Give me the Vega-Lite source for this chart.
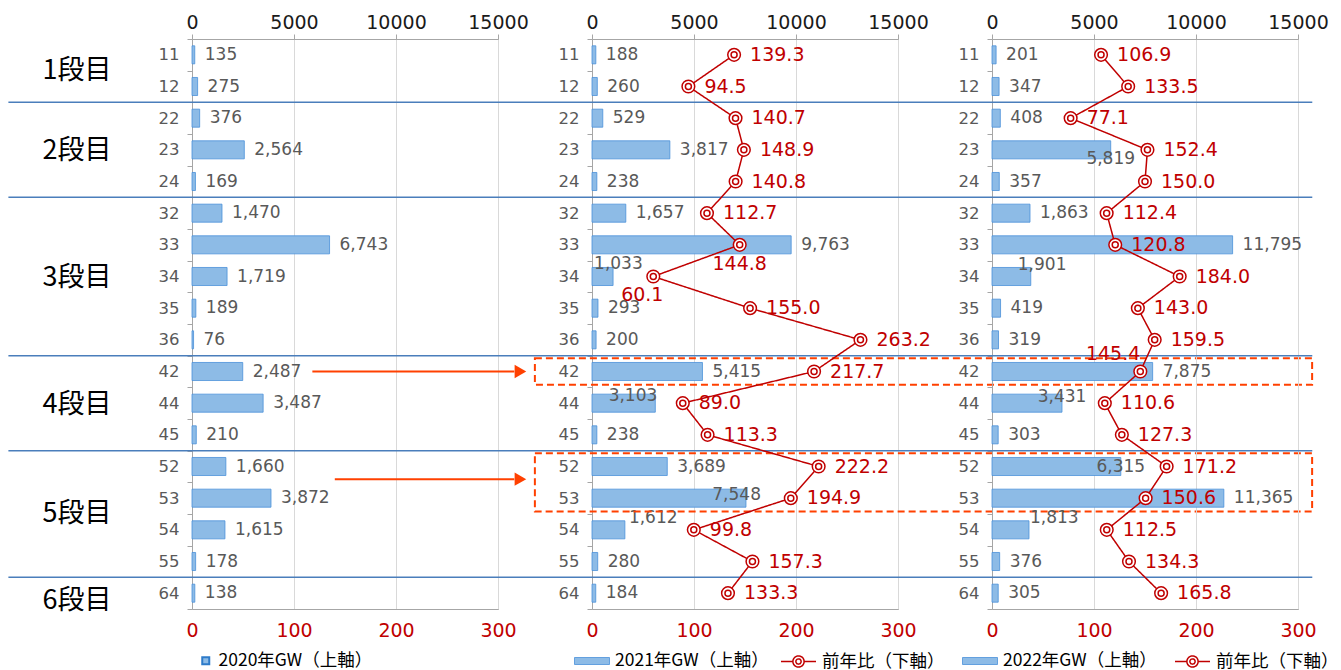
{
"$schema":"https://vega.github.io/schema/vega-lite/v6.json",
"padding":{"left":7,"top":12,"right":5,"bottom":0},
"background":"white",
"datasets":{"d":[
{"code":"11","g2020":135,"g2021":188,"r2021":139.3,"g2022":201,"r2022":106.9},
{"code":"12","g2020":275,"g2021":260,"r2021":94.5,"g2022":347,"r2022":133.5},
{"code":"22","g2020":376,"g2021":529,"r2021":140.7,"g2022":408,"r2022":77.1},
{"code":"23","g2020":2564,"g2021":3817,"r2021":148.9,"g2022":5819,"r2022":152.4},
{"code":"24","g2020":169,"g2021":238,"r2021":140.8,"g2022":357,"r2022":150.0},
{"code":"32","g2020":1470,"g2021":1657,"r2021":112.7,"g2022":1863,"r2022":112.4},
{"code":"33","g2020":6743,"g2021":9763,"r2021":144.8,"g2022":11795,"r2022":120.8},
{"code":"34","g2020":1719,"g2021":1033,"r2021":60.1,"g2022":1901,"r2022":184.0},
{"code":"35","g2020":189,"g2021":293,"r2021":155.0,"g2022":419,"r2022":143.0},
{"code":"36","g2020":76,"g2021":200,"r2021":263.2,"g2022":319,"r2022":159.5},
{"code":"42","g2020":2487,"g2021":5415,"r2021":217.7,"g2022":7875,"r2022":145.4},
{"code":"44","g2020":3487,"g2021":3103,"r2021":89.0,"g2022":3431,"r2022":110.6},
{"code":"45","g2020":210,"g2021":238,"r2021":113.3,"g2022":303,"r2022":127.3},
{"code":"52","g2020":1660,"g2021":3689,"r2021":222.2,"g2022":6315,"r2022":171.2},
{"code":"53","g2020":3872,"g2021":7548,"r2021":194.9,"g2022":11365,"r2022":150.6},
{"code":"54","g2020":1615,"g2021":1612,"r2021":99.8,"g2022":1813,"r2022":112.5},
{"code":"55","g2020":178,"g2021":280,"r2021":157.3,"g2022":376,"r2022":134.3},
{"code":"64","g2020":138,"g2021":184,"r2021":133.3,"g2022":305,"r2022":165.8}
]},
"data":{"name":"d"},
"spacing":94,
"bounds":"flush",
"resolve":{"scale":{"color":"independent","strokeDash":"independent"},"legend":{"color":"independent","strokeDash":"independent"}},
"hconcat":[
{
"width":306,"height":570,
"layer":[
{"layer":[
{"mark":{"type":"bar","height":{"band":0.57},"stroke":"#4A90D9","strokeWidth":0.8},
"encoding":{
"y":{"field":"code","type":"ordinal","title":null,"scale":{"type":"band","domain":["11","12","22","23","24","32","33","34","35","36","42","44","45","52","53","54","55","64"],"paddingInner":0,"paddingOuter":0},"axis":{"title":null,"tickBand":"extent","tickSize":5,"labelPadding":8,"labelFont":"DejaVu Sans","labelFontSize":16.5,"labelColor":"#595959"}},
"x":{"field":"g2020","type":"quantitative","title":null,"scale":{"domain":[0,15000]},"axis":{"orient":"top","title":null,"values":[0,5000,10000,15000],"format":"d","labelFont":"DejaVu Sans","labelFontSize":19,"labelColor":"#1a1a1a","tickSize":5,"labelPadding":2,"grid":true,"gridColor":"#D9D9D9"}},
"color":{"datum":"2020年GW（上軸）","scale":{"domain":["2020年GW（上軸）"],"range":["#8DBBE6"]},"legend":{"orient":"none","legendX":5,"legendY":613,"direction":"horizontal","title":null,"labelFont":"Noto Sans CJK JP","labelFontSize":17.5,"labelColor":"#000","symbolType":"square","symbolSize":49,"symbolStrokeColor":"#2E7BC9","symbolStrokeWidth":2,"labelOffset":4}}
}},
{"mark":{"type":"text","align":"left","baseline":"middle","dx":10,"font":"DejaVu Sans","fontSize":17,"color":"#595959"},
"encoding":{"y":{"field":"code","type":"ordinal","title":null},"x":{"field":"g2020","type":"quantitative","title":null,"scale":{"domain":[0,15000]}},"text":{"field":"g2020","type":"quantitative","format":","}}},
{"transform":[{"filter":{"field":"code","oneOf":["22","32","42","52","64"]}}],
"mark":{"type":"rule","color":"#4A7EBB","strokeWidth":1.5},
"encoding":{"y":{"field":"code","type":"ordinal","title":null,"bandPosition":0},"x":{"datum":-9000,"type":"quantitative","scale":{"domain":[0,15000]}},"x2":{"datum":15000}}},
{"data":{"values":[{"label":"1段目","code":"11"},{"label":"5段目","code":"53"}]},
"mark":{"type":"text","font":"Noto Sans CJK JP","fontSize":27,"color":"#000","align":"center","baseline":"middle"},
"encoding":{"y":{"field":"code","type":"ordinal","title":null,"bandPosition":1},"x":{"datum":-5640,"type":"quantitative","scale":{"domain":[0,15000]}},"text":{"field":"label"}}},
{"data":{"values":[{"label":"2段目","code":"23"},{"label":"3段目","code":"34"},{"label":"4段目","code":"44"}]},
"mark":{"type":"text","font":"Noto Sans CJK JP","fontSize":27,"color":"#000","align":"center","baseline":"middle"},
"encoding":{"y":{"field":"code","type":"ordinal","title":null,"bandPosition":0.55},"x":{"datum":-5640,"type":"quantitative","scale":{"domain":[0,15000]}},"text":{"field":"label"}}},
{"data":{"values":[{"label":"6段目","code":"64"}]},
"mark":{"type":"text","font":"Noto Sans CJK JP","fontSize":27,"color":"#000","align":"center","baseline":"middle"},
"encoding":{"y":{"field":"code","type":"ordinal","title":null,"bandPosition":0.75},"x":{"datum":-5640,"type":"quantitative","scale":{"domain":[0,15000]}},"text":{"field":"label"}}},
{"data":{"values":[{"code":"42"}]},
"mark":{"type":"rule","color":"#FF4000","strokeWidth":2},
"encoding":{"y":{"field":"code","type":"ordinal","title":null},"x":{"datum":5900,"type":"quantitative","scale":{"domain":[0,15000]}},"x2":{"datum":15800}}},
{"data":{"values":[{"code":"42"}]},
"mark":{"type":"point","shape":"triangle-right","filled":true,"color":"#FF4000","size":180,"opacity":1},
"encoding":{"y":{"field":"code","type":"ordinal","title":null},"x":{"datum":16100,"type":"quantitative","scale":{"domain":[0,15000]}}}},
{"data":{"values":[{"code":"52"}]},
"mark":{"type":"rule","color":"#FF4000","strokeWidth":2},
"encoding":{"y":{"field":"code","type":"ordinal","title":null,"bandPosition":0.9},"x":{"datum":7000,"type":"quantitative","scale":{"domain":[0,15000]}},"x2":{"datum":15800}}},
{"data":{"values":[{"code":"52"}]},
"mark":{"type":"point","shape":"triangle-right","filled":true,"color":"#FF4000","size":180,"opacity":1},
"encoding":{"y":{"field":"code","type":"ordinal","title":null,"bandPosition":0.9},"x":{"datum":16100,"type":"quantitative","scale":{"domain":[0,15000]}}}}
]},
{"layer":[
{"mark":{"type":"rule","opacity":0},
"encoding":{"x":{"datum":0,"type":"quantitative","scale":{"domain":[0,300]},"axis":{"orient":"bottom","title":null,"values":[0,100,200,300],"labelFont":"DejaVu Sans","labelFontSize":19,"labelColor":"#C00000","ticks":false,"labelPadding":12,"grid":false}}}}
]}
],
"resolve":{"scale":{"x":"independent"}}
},
{
"width":306,"height":570,
"layer":[
{"layer":[
{"mark":{"type":"bar","height":{"band":0.57},"stroke":"#4A90D9","strokeWidth":0.8},
"encoding":{
"y":{"field":"code","type":"ordinal","title":null,"scale":{"type":"band","domain":["11","12","22","23","24","32","33","34","35","36","42","44","45","52","53","54","55","64"],"paddingInner":0,"paddingOuter":0},"axis":{"title":null,"tickBand":"extent","tickSize":5,"labelPadding":8,"labelFont":"DejaVu Sans","labelFontSize":16.5,"labelColor":"#595959"}},
"x":{"field":"g2021","type":"quantitative","title":null,"scale":{"domain":[0,15000]},"axis":{"orient":"top","title":null,"values":[0,5000,10000,15000],"format":"d","labelFont":"DejaVu Sans","labelFontSize":19,"labelColor":"#1a1a1a","tickSize":5,"labelPadding":2,"grid":true,"gridColor":"#D9D9D9"}},
"color":{"datum":"2021年GW（上軸）","scale":{"domain":["2021年GW（上軸）"],"range":["#8DBBE6"]},"legend":{"orient":"none","legendX":-18,"legendY":604,"direction":"horizontal","title":null,"labelFont":"Noto Sans CJK JP","labelFontSize":17.5,"labelColor":"#000","symbolType":"M-1,-0.2H1V0.2H-1Z","symbolSize":1225,"symbolStrokeColor":"#4A90D9","symbolStrokeWidth":0.8,"labelOffset":5}}
}},
{"transform":[{"filter":{"not":{"field":"code","oneOf":["34","44","53","54"]}}}],
"mark":{"type":"text","align":"left","baseline":"middle","dx":10,"font":"DejaVu Sans","fontSize":17,"color":"#595959"},
"encoding":{"y":{"field":"code","type":"ordinal","title":null},"x":{"field":"g2021","type":"quantitative","title":null,"scale":{"domain":[0,15000]}},"text":{"field":"g2021","type":"quantitative","format":","}}},
{"transform":[{"filter":{"field":"code","equal":"34"}}],
"mark":{"type":"text","align":"left","baseline":"middle","dx":-19,"dy":-13,"font":"DejaVu Sans","fontSize":17,"color":"#595959"},
"encoding":{"y":{"field":"code","type":"ordinal","title":null},"x":{"field":"g2021","type":"quantitative","title":null,"scale":{"domain":[0,15000]}},"text":{"field":"g2021","type":"quantitative","format":","}}},
{"transform":[{"filter":{"field":"code","equal":"44"}}],
"mark":{"type":"text","align":"right","baseline":"middle","dx":2,"dy":-7,"font":"DejaVu Sans","fontSize":17,"color":"#595959"},
"encoding":{"y":{"field":"code","type":"ordinal","title":null},"x":{"field":"g2021","type":"quantitative","title":null,"scale":{"domain":[0,15000]}},"text":{"field":"g2021","type":"quantitative","format":","}}},
{"transform":[{"filter":{"field":"code","equal":"53"}}],
"mark":{"type":"text","align":"right","baseline":"middle","dx":15,"dy":-3,"font":"DejaVu Sans","fontSize":17,"color":"#595959"},
"encoding":{"y":{"field":"code","type":"ordinal","title":null},"x":{"field":"g2021","type":"quantitative","title":null,"scale":{"domain":[0,15000]}},"text":{"field":"g2021","type":"quantitative","format":","}}},
{"transform":[{"filter":{"field":"code","equal":"54"}}],
"mark":{"type":"text","align":"left","baseline":"middle","dx":4,"dy":-12,"font":"DejaVu Sans","fontSize":17,"color":"#595959"},
"encoding":{"y":{"field":"code","type":"ordinal","title":null},"x":{"field":"g2021","type":"quantitative","title":null,"scale":{"domain":[0,15000]}},"text":{"field":"g2021","type":"quantitative","format":","}}},
{"transform":[{"filter":{"field":"code","oneOf":["22","32","42","52","64"]}}],
"mark":{"type":"rule","color":"#4A7EBB","strokeWidth":1.5},
"encoding":{"y":{"field":"code","type":"ordinal","title":null,"bandPosition":0},"x":{"datum":-4610,"type":"quantitative","scale":{"domain":[0,15000]}},"x2":{"datum":15000}}},
{"data":{"values":[{"top":"42","bottom":"42"},{"top":"52","bottom":"53"}]},
"mark":{"type":"rect","filled":false,"color":"#FF4000","strokeWidth":2,"strokeDash":[7,4]},
"encoding":{"y":{"field":"top","type":"ordinal","title":null,"bandPosition":0.08},"y2":{"field":"bottom","bandPosition":0.92},"x":{"datum":-2800,"type":"quantitative","scale":{"domain":[0,15000]}},"x2":{"datum":35300}}}
]},
{"layer":[
{"mark":{"type":"line","strokeWidth":1.5,"color":"#C00000"},
"encoding":{"y":{"field":"code","type":"ordinal","title":null},"x":{"field":"r2021","type":"quantitative","title":null,"scale":{"domain":[0,300]},"axis":{"orient":"bottom","title":null,"values":[0,100,200,300],"labelFont":"DejaVu Sans","labelFontSize":19,"labelColor":"#C00000","ticks":false,"labelPadding":12,"grid":false}},"order":{"field":"code","type":"ordinal"},
"strokeDash":{"datum":"前年比（下軸）","type":"nominal","scale":{"range":[[1,0]]},"legend":{"orient":"none","legendX":188,"legendY":604,"direction":"horizontal","title":null,"labelFont":"Noto Sans CJK JP","labelFontSize":17.5,"labelColor":"#000","symbolType":"M-1,0H-0.32M0.32,0H1M0.32,0A0.32,0.32 0 1,1 -0.32,0A0.32,0.32 0 1,1 0.32,0ZM0.15,0A0.15,0.15 0 1,1 -0.15,0A0.15,0.15 0 1,1 0.15,0Z","symbolSize":1225,"symbolStrokeColor":"#C00000","symbolFillColor":"white","symbolStrokeWidth":1.5,"labelOffset":5}}}},
{"mark":{"type":"point","shape":"circle","filled":true,"fill":"white","stroke":"#C00000","strokeWidth":1.5,"size":160,"opacity":1},
"encoding":{"y":{"field":"code","type":"ordinal","title":null},"x":{"field":"r2021","type":"quantitative","title":null,"scale":{"domain":[0,300]}}}},
{"mark":{"type":"point","shape":"circle","filled":true,"fill":"white","stroke":"#C00000","strokeWidth":1.5,"size":36,"opacity":1},
"encoding":{"y":{"field":"code","type":"ordinal","title":null},"x":{"field":"r2021","type":"quantitative","title":null,"scale":{"domain":[0,300]}}}},
{"transform":[{"filter":{"not":{"field":"code","oneOf":["33","34"]}}}],
"mark":{"type":"text","align":"left","baseline":"middle","dx":16,"font":"DejaVu Sans","fontSize":19,"color":"#C00000"},
"encoding":{"y":{"field":"code","type":"ordinal","title":null},"x":{"field":"r2021","type":"quantitative","title":null,"scale":{"domain":[0,300]}},"text":{"field":"r2021","type":"quantitative","format":".1f"}}},
{"transform":[{"filter":{"field":"code","equal":"33"}}],
"mark":{"type":"text","align":"center","baseline":"middle","dy":19,"font":"DejaVu Sans","fontSize":19,"color":"#C00000"},
"encoding":{"y":{"field":"code","type":"ordinal","title":null},"x":{"field":"r2021","type":"quantitative","title":null,"scale":{"domain":[0,300]}},"text":{"field":"r2021","type":"quantitative","format":".1f"}}},
{"transform":[{"filter":{"field":"code","equal":"34"}}],
"mark":{"type":"text","align":"center","baseline":"middle","dx":-11,"dy":18,"font":"DejaVu Sans","fontSize":19,"color":"#C00000"},
"encoding":{"y":{"field":"code","type":"ordinal","title":null},"x":{"field":"r2021","type":"quantitative","title":null,"scale":{"domain":[0,300]}},"text":{"field":"r2021","type":"quantitative","format":".1f"}}}
]}
],
"resolve":{"scale":{"x":"independent"}}
},
{
"width":306,"height":570,
"layer":[
{"layer":[
{"mark":{"type":"bar","height":{"band":0.57},"stroke":"#4A90D9","strokeWidth":0.8},
"encoding":{
"y":{"field":"code","type":"ordinal","title":null,"scale":{"type":"band","domain":["11","12","22","23","24","32","33","34","35","36","42","44","45","52","53","54","55","64"],"paddingInner":0,"paddingOuter":0},"axis":{"title":null,"tickBand":"extent","tickSize":5,"labelPadding":8,"labelFont":"DejaVu Sans","labelFontSize":16.5,"labelColor":"#595959"}},
"x":{"field":"g2022","type":"quantitative","title":null,"scale":{"domain":[0,15000]},"axis":{"orient":"top","title":null,"values":[0,5000,10000,15000],"format":"d","labelFont":"DejaVu Sans","labelFontSize":19,"labelColor":"#1a1a1a","tickSize":5,"labelPadding":2,"grid":true,"gridColor":"#D9D9D9"}},
"color":{"datum":"2022年GW（上軸）","scale":{"domain":["2022年GW（上軸）"],"range":["#8DBBE6"]},"legend":{"orient":"none","legendX":-30,"legendY":604,"direction":"horizontal","title":null,"labelFont":"Noto Sans CJK JP","labelFontSize":17.5,"labelColor":"#000","symbolType":"M-1,-0.2H1V0.2H-1Z","symbolSize":1225,"symbolStrokeColor":"#4A90D9","symbolStrokeWidth":0.8,"labelOffset":5}}
}},
{"transform":[{"filter":{"not":{"field":"code","oneOf":["23","34","44","52","54"]}}}],
"mark":{"type":"text","align":"left","baseline":"middle","dx":10,"font":"DejaVu Sans","fontSize":17,"color":"#595959"},
"encoding":{"y":{"field":"code","type":"ordinal","title":null},"x":{"field":"g2022","type":"quantitative","title":null,"scale":{"domain":[0,15000]}},"text":{"field":"g2022","type":"quantitative","format":","}}},
{"transform":[{"filter":{"field":"code","equal":"23"}}],
"mark":{"type":"text","align":"center","baseline":"middle","dy":9,"font":"DejaVu Sans","fontSize":17,"color":"#595959"},
"encoding":{"y":{"field":"code","type":"ordinal","title":null},"x":{"field":"g2022","type":"quantitative","title":null,"scale":{"domain":[0,15000]}},"text":{"field":"g2022","type":"quantitative","format":","}}},
{"transform":[{"filter":{"field":"code","equal":"34"}}],
"mark":{"type":"text","align":"left","baseline":"middle","dx":-13,"dy":-12,"font":"DejaVu Sans","fontSize":17,"color":"#595959"},
"encoding":{"y":{"field":"code","type":"ordinal","title":null},"x":{"field":"g2022","type":"quantitative","title":null,"scale":{"domain":[0,15000]}},"text":{"field":"g2022","type":"quantitative","format":","}}},
{"transform":[{"filter":{"field":"code","equal":"44"}}],
"mark":{"type":"text","align":"center","baseline":"middle","dy":-6,"font":"DejaVu Sans","fontSize":17,"color":"#595959"},
"encoding":{"y":{"field":"code","type":"ordinal","title":null},"x":{"field":"g2022","type":"quantitative","title":null,"scale":{"domain":[0,15000]}},"text":{"field":"g2022","type":"quantitative","format":","}}},
{"transform":[{"filter":{"field":"code","equal":"52"}}],
"mark":{"type":"text","align":"center","baseline":"middle","font":"DejaVu Sans","fontSize":17,"color":"#595959"},
"encoding":{"y":{"field":"code","type":"ordinal","title":null},"x":{"field":"g2022","type":"quantitative","title":null,"scale":{"domain":[0,15000]}},"text":{"field":"g2022","type":"quantitative","format":","}}},
{"transform":[{"filter":{"field":"code","equal":"54"}}],
"mark":{"type":"text","align":"left","baseline":"middle","dx":1,"dy":-12,"font":"DejaVu Sans","fontSize":17,"color":"#595959"},
"encoding":{"y":{"field":"code","type":"ordinal","title":null},"x":{"field":"g2022","type":"quantitative","title":null,"scale":{"domain":[0,15000]}},"text":{"field":"g2022","type":"quantitative","format":","}}},
{"transform":[{"filter":{"field":"code","oneOf":["22","32","42","52","64"]}}],
"mark":{"type":"rule","color":"#4A7EBB","strokeWidth":1.5},
"encoding":{"y":{"field":"code","type":"ordinal","title":null,"bandPosition":0},"x":{"datum":-4610,"type":"quantitative","scale":{"domain":[0,15000]}},"x2":{"datum":15700}}}
]},
{"layer":[
{"mark":{"type":"line","strokeWidth":1.5,"color":"#C00000"},
"encoding":{"y":{"field":"code","type":"ordinal","title":null},"x":{"field":"r2022","type":"quantitative","title":null,"scale":{"domain":[0,300]},"axis":{"orient":"bottom","title":null,"values":[0,100,200,300],"labelFont":"DejaVu Sans","labelFontSize":19,"labelColor":"#C00000","ticks":false,"labelPadding":12,"grid":false}},"order":{"field":"code","type":"ordinal"},
"strokeDash":{"datum":"前年比（下軸）","type":"nominal","scale":{"range":[[1,0]]},"legend":{"orient":"none","legendX":182,"legendY":604,"direction":"horizontal","title":null,"labelFont":"Noto Sans CJK JP","labelFontSize":17.5,"labelColor":"#000","symbolType":"M-1,0H-0.32M0.32,0H1M0.32,0A0.32,0.32 0 1,1 -0.32,0A0.32,0.32 0 1,1 0.32,0ZM0.15,0A0.15,0.15 0 1,1 -0.15,0A0.15,0.15 0 1,1 0.15,0Z","symbolSize":1225,"symbolStrokeColor":"#C00000","symbolFillColor":"white","symbolStrokeWidth":1.5,"labelOffset":5}}}},
{"mark":{"type":"point","shape":"circle","filled":true,"fill":"white","stroke":"#C00000","strokeWidth":1.5,"size":160,"opacity":1},
"encoding":{"y":{"field":"code","type":"ordinal","title":null},"x":{"field":"r2022","type":"quantitative","title":null,"scale":{"domain":[0,300]}}}},
{"mark":{"type":"point","shape":"circle","filled":true,"fill":"white","stroke":"#C00000","strokeWidth":1.5,"size":36,"opacity":1},
"encoding":{"y":{"field":"code","type":"ordinal","title":null},"x":{"field":"r2022","type":"quantitative","title":null,"scale":{"domain":[0,300]}}}},
{"transform":[{"filter":{"not":{"field":"code","equal":"42"}}}],
"mark":{"type":"text","align":"left","baseline":"middle","dx":16,"font":"DejaVu Sans","fontSize":19,"color":"#C00000"},
"encoding":{"y":{"field":"code","type":"ordinal","title":null},"x":{"field":"r2022","type":"quantitative","title":null,"scale":{"domain":[0,300]}},"text":{"field":"r2022","type":"quantitative","format":".1f"}}},
{"transform":[{"filter":{"field":"code","equal":"42"}}],
"mark":{"type":"text","align":"right","baseline":"middle","dy":-18,"font":"DejaVu Sans","fontSize":19,"color":"#C00000"},
"encoding":{"y":{"field":"code","type":"ordinal","title":null},"x":{"field":"r2022","type":"quantitative","title":null,"scale":{"domain":[0,300]}},"text":{"field":"r2022","type":"quantitative","format":".1f"}}}
]}
],
"resolve":{"scale":{"x":"independent"}}
}
],
"config":{
"view":{"stroke":"#A6A6A6","strokeWidth":1},
"axis":{"domainColor":"#A6A6A6","tickColor":"#A6A6A6","labelOverlap":false,"labelFlush":false}
}
}
